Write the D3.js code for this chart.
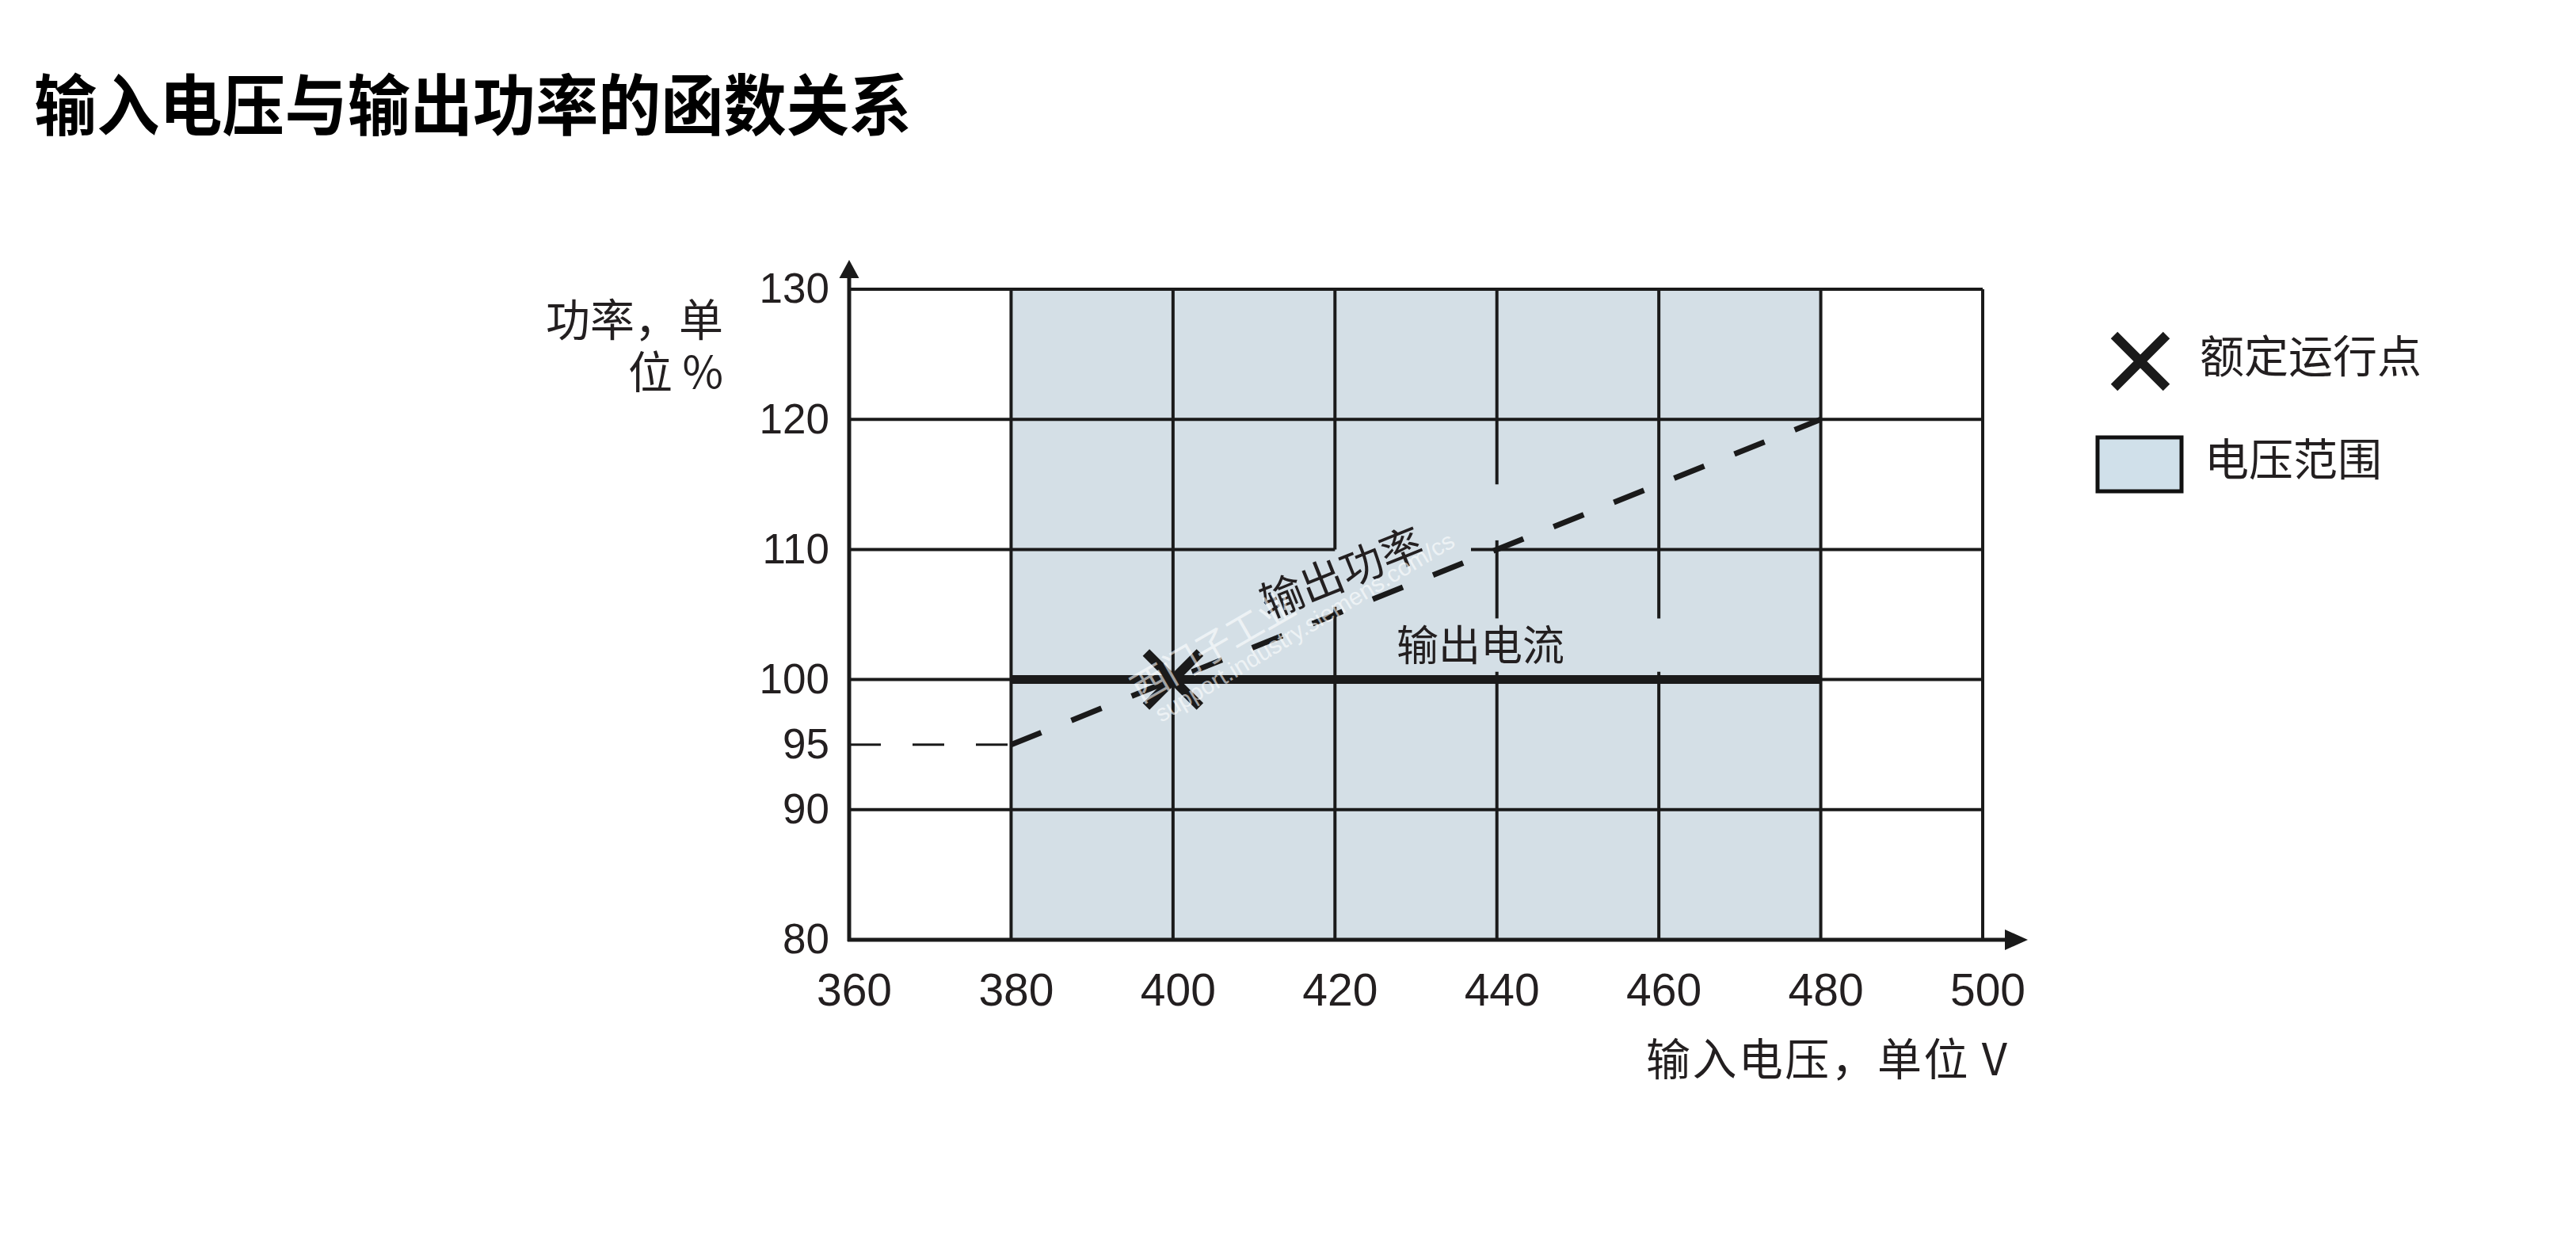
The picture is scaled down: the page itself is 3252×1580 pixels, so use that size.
<!DOCTYPE html>
<html>
<head>
<meta charset="utf-8">
<script src="https://cdn.jsdelivr.net/npm/d3@7"></script>
<style>
  body { margin: 0; background: #fff; }
  svg { display: block; }
  .cjk { font-family: "Noto Sans CJK SC", sans-serif; }
  .num { font-family: "Liberation Sans", Arial, sans-serif; }
</style>
</head>
<body>
<div id="chart"></div>
<script>
// data
const xTicks = [360, 380, 400, 420, 440, 460, 480, 500];
const yTicks = [80, 90, 95, 100, 110, 120, 130];
const vGrid = [380, 400, 420, 440, 460, 480, 500];
const hGrid = [90, 100, 110, 120, 130];
const voltageRange = [380, 480];
const powerLead = [{ v: 360, p: 95 }, { v: 380, p: 95 }];
const powerCurve = [{ v: 380, p: 95 }, { v: 480, p: 120 }];
const currentLine = [{ v: 380, p: 100 }, { v: 480, p: 100 }];
const ratedPoint = { v: 400, p: 100 };
// places where the grid is broken for the labels
const vGaps = [
  { at: 420, from: 105.6, to: 110 },
  { at: 440, from: 110.7, to: 115 },
  { at: 440, from: 100.6, to: 104.7 },
  { at: 460, from: 100.6, to: 104.7 }
];
const hGaps = [{ at: 110, from: 420, to: 436.8 }];

const W = 3252, H = 1580;
const ink = "#1a1a1a";

const svg = d3.select("#chart").append("svg")
  .attr("width", W)
  .attr("height", H);

const x = d3.scaleLinear().domain([360, 500]).range([1072, 2503]);
const y = d3.scaleLinear().domain([80, 130]).range([1186, 365]);

// title
svg.append("text")
  .attr("class", "cjk")
  .attr("x", 43)
  .attr("y", 164)
  .attr("font-size", 84)
  .attr("font-weight", "bold")
  .attr("fill", "#000")
  .attr("textLength", 1108)
  .attr("lengthAdjust", "spacingAndGlyphs")
  .text("输入电压与输出功率的函数关系");

// shaded voltage range
svg.append("rect")
  .attr("x", x(voltageRange[0]))
  .attr("y", y(130))
  .attr("width", x(voltageRange[1]) - x(voltageRange[0]))
  .attr("height", y(80) - y(130))
  .attr("fill", "#d4dfe6");

// cut a [lo,hi] range into pieces around gaps
function pieces(lo, hi, gaps) {
  const out = [];
  let start = lo;
  gaps.slice().sort((a, b) => a.from - b.from).forEach(g => {
    if (g.from > start) out.push([start, g.from]);
    start = Math.max(start, g.to);
  });
  if (start < hi) out.push([start, hi]);
  return out;
}

const grid = svg.append("g")
  .attr("stroke", ink)
  .attr("stroke-width", 4);

vGrid.forEach(v => {
  pieces(80, 130, vGaps.filter(g => g.at === v)).forEach(s => {
    grid.append("line")
      .attr("x1", x(v)).attr("x2", x(v))
      .attr("y1", y(s[0])).attr("y2", y(s[1]));
  });
});

hGrid.forEach(p => {
  pieces(360, 500, hGaps.filter(g => g.at === p)).forEach(s => {
    grid.append("line")
      .attr("x1", x(s[0])).attr("x2", x(s[1]))
      .attr("y1", y(p)).attr("y2", y(p));
  });
});

// axes with arrows
svg.append("line")
  .attr("x1", x(360)).attr("x2", x(360))
  .attr("y1", y(80) + 2).attr("y2", y(130) - 15)
  .attr("stroke", ink).attr("stroke-width", 5);
svg.append("path")
  .attr("d", `M${x(360)},${y(130) - 37} L${x(360) - 12.5},${y(130) - 14} L${x(360) + 12.5},${y(130) - 14} Z`)
  .attr("fill", ink);

svg.append("line")
  .attr("x1", x(360) - 2).attr("x2", x(500) + 29)
  .attr("y1", y(80)).attr("y2", y(80))
  .attr("stroke", ink).attr("stroke-width", 5);
svg.append("path")
  .attr("d", `M${x(500) + 57},${y(80)} L${x(500) + 28},${y(80) - 13} L${x(500) + 28},${y(80) + 13} Z`)
  .attr("fill", ink);

// tick labels
const xAxis = svg.append("g")
  .attr("transform", `translate(0,${y(80)})`)
  .call(d3.axisBottom(x).tickValues(xTicks).tickSize(0).tickPadding(43));
xAxis.select(".domain").remove();
xAxis.selectAll("text")
  .attr("class", "num")
  .attr("font-size", 57)
  .attr("fill", "#231f20")
  .attr("dx", 6);

const yAxis = svg.append("g")
  .attr("transform", `translate(${x(360)},0)`)
  .call(d3.axisLeft(y).tickValues(yTicks).tickSize(0).tickPadding(25));
yAxis.select(".domain").remove();
yAxis.selectAll("text")
  .attr("class", "num")
  .attr("font-size", 53)
  .attr("fill", "#231f20");

// axis titles
svg.append("text")
  .attr("class", "cjk")
  .attr("x", 913)
  .attr("y", 424)
  .attr("font-size", 56)
  .attr("fill", "#231f20")
  .attr("text-anchor", "end")
  .text("功率，单");
svg.append("text")
  .attr("class", "cjk")
  .attr("x", 913)
  .attr("y", 490)
  .attr("font-size", 56)
  .attr("fill", "#231f20")
  .attr("text-anchor", "end")
  .text("位 %");

svg.append("text")
  .attr("class", "cjk")
  .attr("x", 2534)
  .attr("y", 1357)
  .attr("font-size", 56)
  .attr("fill", "#231f20")
  .attr("text-anchor", "end")
  .attr("textLength", 456)
  .text("输入电压，单位 V");

// output power: dashed
const line = d3.line().x(d => x(d.v)).y(d => y(d.p));

svg.append("path")
  .attr("d", line(powerLead))
  .attr("fill", "none")
  .attr("stroke", ink)
  .attr("stroke-width", 3)
  .attr("stroke-dasharray", "40,40");

svg.append("path")
  .attr("d", line(powerCurve))
  .attr("fill", "none")
  .attr("stroke", ink)
  .attr("stroke-width", 7)
  .attr("stroke-dasharray", "41,41");

// output current: thick solid
svg.append("path")
  .attr("d", line(currentLine))
  .attr("fill", "none")
  .attr("stroke", ink)
  .attr("stroke-width", 11);

// rated point
const cx = x(ratedPoint.v), cy = y(ratedPoint.p), r = 34;
svg.append("path")
  .attr("d", `M${cx - r},${cy - r}L${cx + r},${cy + r}M${cx + r},${cy - r}L${cx - r},${cy + r}`)
  .attr("stroke", ink)
  .attr("stroke-width", 12)
  .attr("fill", "none");

// curve labels
const p0 = powerCurve[0], p1 = powerCurve[1];
const angle = Math.atan2(y(p1.p) - y(p0.p), x(p1.v) - x(p0.v)) * 180 / Math.PI;
const lv = 422.5, lp = p0.p + (lv - p0.v) * (p1.p - p0.p) / (p1.v - p0.v);
svg.append("text")
  .attr("class", "cjk")
  .attr("transform", `translate(${x(lv)},${y(lp)}) rotate(${angle})`)
  .attr("y", -26)
  .attr("font-size", 54)
  .attr("fill", "#231f20")
  .attr("text-anchor", "middle")
  .text("输出功率");

svg.append("text")
  .attr("class", "cjk")
  .attr("x", 1763)
  .attr("y", 834)
  .attr("font-size", 53)
  .attr("fill", "#231f20")
  .text("输出电流");

// faint watermark
const wm = svg.append("g")
  .attr("fill", "#fff")
  .attr("opacity", 0.6);
wm.append("text")
  .attr("class", "cjk")
  .attr("transform", "translate(1440,888) rotate(-30)")
  .attr("font-size", 46)
  .text("西门子工业");
wm.append("text")
  .attr("class", "num")
  .attr("transform", "translate(1466,912) rotate(-31)")
  .attr("font-size", 30)
  .text("support.industry.siemens.com/cs");

// legend
const lx = 2702, ly = 456;
svg.append("path")
  .attr("d", `M${lx - 33},${ly - 33}L${lx + 33},${ly + 33}M${lx + 33},${ly - 33}L${lx - 33},${ly + 33}`)
  .attr("stroke", ink)
  .attr("stroke-width", 12)
  .attr("fill", "none");
svg.append("text")
  .attr("class", "cjk")
  .attr("x", 2777)
  .attr("y", 470)
  .attr("font-size", 56)
  .attr("fill", "#231f20")
  .text("额定运行点");

svg.append("rect")
  .attr("x", 2648)
  .attr("y", 552)
  .attr("width", 106)
  .attr("height", 68)
  .attr("fill", "#d0e0ea")
  .attr("stroke", "#111")
  .attr("stroke-width", 5);
svg.append("text")
  .attr("class", "cjk")
  .attr("x", 2783)
  .attr("y", 600)
  .attr("font-size", 56)
  .attr("fill", "#231f20")
  .text("电压范围");
</script>
</body>
</html>
